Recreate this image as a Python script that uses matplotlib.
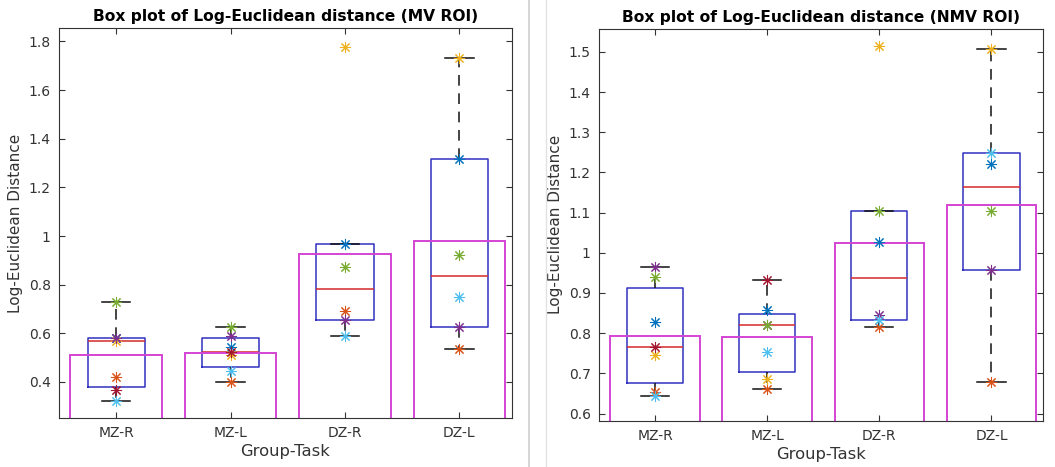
import numpy as np
import matplotlib
matplotlib.use("Agg")
import matplotlib.pyplot as plt
from matplotlib.lines import Line2D

groups = ["MZ-R", "MZ-L", "DZ-R", "DZ-L"]
# MATLAB default colour order: blue, orange, yellow, purple, green, cyan, dark red
pt_colors = ["#0072bd", "#d95319", "#edb120", "#7e2f8e", "#77ac30", "#4dbeee", "#a2142f"]

# MV ROI, one value per subject (in colour order)
mv_mzr = [0.580, 0.420, 0.570, 0.582, 0.730, 0.320, 0.365]
mv_mzl = [0.545, 0.400, 0.510, 0.590, 0.625, 0.445, 0.525]
mv_dzr = [0.968, 0.693, 1.779, 0.656, 0.871, 0.590]
mv_dzl = [1.316, 0.536, 1.731, 0.624, 0.920, 0.748]

# NMV ROI
nmv_mzr = [0.828, 0.654, 0.745, 0.965, 0.940, 0.644, 0.766]
nmv_mzl = [0.857, 0.662, 0.686, 0.820, 0.820, 0.752, 0.932]
nmv_dzr = [1.028, 0.815, 1.515, 0.845, 1.104, 0.832]
nmv_dzl = [1.222, 0.678, 1.508, 0.958, 1.105, 1.248]

panels = [
    ("Box plot of Log-Euclidean distance (MV ROI)", [mv_mzr, mv_mzl, mv_dzr, mv_dzl],
     (0.252, 1.855), [0.4, 0.6, 0.8, 1.0, 1.2, 1.4, 1.6, 1.8]),
    ("Box plot of Log-Euclidean distance (NMV ROI)", [nmv_mzr, nmv_mzl, nmv_dzr, nmv_dzl],
     (0.582, 1.557), [0.6, 0.7, 0.8, 0.9, 1.0, 1.1, 1.2, 1.3, 1.4, 1.5]),
]

def box_stats(vals, whis=1.5):
    v = np.asarray(vals)
    q1, med, q3 = np.percentile(v, [25, 50, 75], method="hazen")
    iqr = q3 - q1
    lo = v[v >= q1 - whis * iqr].min()
    hi = v[v <= q3 + whis * iqr].max()
    return dict(q1=q1, med=med, q3=q3, whislo=lo, whishi=hi, fliers=[])

def tick_fmt(t):
    s = ("%.1f" % t)
    return "1" if s == "1.0" else s

fig = plt.figure(figsize=(10.55, 4.67), dpi=100)
positions = [[0.0559, 0.105, 0.4294, 0.835], [0.5678, 0.099, 0.4209, 0.839]]
tc = "#333333"

for (title, data, ylim, yticks), pos in zip(panels, positions):
    ax = fig.add_axes(pos)
    x = np.arange(1, len(groups) + 1)

    stats = [box_stats(d) for d in data]
    ax.bxp(stats, positions=x, widths=0.5, showfliers=False,
           boxprops=dict(color="#3030c0", lw=1.1),
           medianprops=dict(color="#d42a2a", lw=1.1),
           whiskerprops=dict(color="#111111", lw=1.1, linestyle=(0, (7, 5))),
           capprops=dict(color="#111111", lw=1.1), zorder=2)

    means = [np.mean(d) for d in data]
    ax.bar(x, means, width=0.8, facecolor="none", edgecolor="#d444d4", lw=1.4, zorder=3)

    for xi, d in zip(x, data):
        for v, c in zip(d, pt_colors):
            ax.plot(xi, v, marker=(8, 2, 0), ms=8, mew=0.75, color=c, ls="none", zorder=4)

    ax.set_xlim(0.5, 4.46)
    ax.set_ylim(*ylim)
    ax.set_xticks(x)
    ax.set_xticklabels(groups)
    ax.set_yticks(yticks)
    ax.set_yticklabels([tick_fmt(t) for t in yticks])
    ax.tick_params(direction="in", top=True, right=True, labelsize=10,
                   colors=tc, length=4, width=0.8, pad=6)
    for s in ax.spines.values():
        s.set_color(tc)
        s.set_linewidth(0.8)
    ax.set_title(title, fontsize=11.2, fontweight="bold", pad=5)
    ax.set_xlabel("Group-Task", fontsize=11.8, color=tc, labelpad=3)
    ax.set_ylabel("Log-Euclidean Distance", fontsize=11, color=tc, labelpad=4)

# window separators
fig.add_artist(Line2D([529 / 1055] * 2, [0, 1], color="#d0d0d0", lw=1.2))
fig.add_artist(Line2D([546 / 1055] * 2, [0, 1], color="#e2e2e2", lw=1.0))

fig.savefig("out.png", dpi=100)
